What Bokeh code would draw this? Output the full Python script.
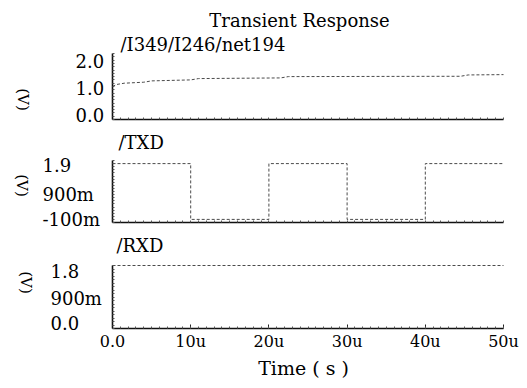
import math
import numpy as np
from bokeh.plotting import figure
from bokeh.models import FixedTicker, Range1d, LinearAxis, Label
from bokeh.embed import file_html
from bokeh.resources import INLINE

# ---------------- data (time in microseconds, volts) ----------------
t_net = [0.0, 0.5, 1.5, 4.0, 5.0, 10.0, 11.0, 21.5, 22.5, 44.5, 45.5, 50.0]
v_net = [1.00, 1.06, 1.10, 1.13, 1.17, 1.20, 1.24, 1.26, 1.30, 1.31, 1.35, 1.36]

t_txd = [0, 10, 10, 20, 20, 30, 30, 40, 40, 50]
v_txd = [1.8, 1.8, 0.0, 0.0, 1.8, 1.8, 0.0, 0.0, 1.8, 1.8]

t_rxd = [0, 50]
v_rxd = [1.8, 1.8]

x_ticks = [0, 10, 20, 30, 40, 50]
x_tick_labels = ["0.0", "10u", "20u", "30u", "40u", "50u"]

net_ticks = [0.0, 1.0, 2.0]
net_tick_labels = ["0.0", "1.0", "2.0"]
txd_ticks = [-0.1, 0.9, 1.9]
txd_tick_labels = ["-100m", "900m", "1.9"]
rxd_ticks = [0.0, 0.9, 1.8]
rxd_tick_labels = ["0.0", "900m", "1.8"]

chart_title = "Transient Response"
signal_names = ["/I349/I246/net194", "/TXD", "/RXD"]
unit_label = "(V)"
x_label = "Time ( s )"

# ---------------- geometry / styling ----------------
W, H = 519, 380
FONT = "DejaVu Serif"
LINE_COLOR = "#4a4a4a"
X_LEFT, X_RIGHT = 112, 503          # pixel span of 0 .. 50 us


def y_range_for(band_top, band_bot, y0, y1):
    k = (y1 - y0) / (band_bot - band_top)
    return Range1d(y0 - (H - band_bot) * k, y1 + band_top * k)


kx = 50.0 / (X_RIGHT - X_LEFT)
p = figure(width=W, height=H, output_backend="svg", toolbar_location=None,
           title=None, x_axis_type=None, y_axis_type=None, min_border=0,
           x_range=Range1d(-X_LEFT * kx, 50 + (W - X_RIGHT) * kx),
           y_range=Range1d(0, H))
p.grid.visible = False
p.outline_line_color = None

panels = [
    # range name, band (top,bottom px), axis range, data, ticks, labels,
    # label x, label y-offsets (px), unit pos, name pos, name, x labels?
    ("p1", (53, 119), (0.0, 2.0), t_net, v_net, net_ticks, net_tick_labels, 75,
     (5, -1, -7), (22, 99), (120, 44), signal_names[0], False),
    ("p2", (160, 222), (-0.1, 1.9), t_txd, v_txd, txd_ticks, txd_tick_labels, 42,
     (3, -3, -4), (21, 185), (118, 142), signal_names[1], False),
    ("p3", (265, 328), (0.0, 1.8), t_rxd, v_rxd, rxd_ticks, rxd_tick_labels, 50,
     (6, -1, -5), (25, 282), (116, 245), signal_names[2], True),
]

minor_x = [float(m) for m in np.arange(0, 50.01, 1.0)]

for (rn, band, yr, t, v, ticks, labels, lx, loffs, upos, npos, name, show_x) in panels:
    p.extra_y_ranges[rn] = y_range_for(band[0], band[1], yr[0], yr[1])

    ya = LinearAxis(y_range_name=rn, fixed_location=0, bounds=yr,
                    axis_line_color="#111111", axis_line_width=1.6,
                    major_tick_in=0, major_tick_out=0,
                    minor_tick_in=2, minor_tick_out=0,
                    minor_tick_line_color="#555555",
                    ticker=FixedTicker(ticks=[], minor_ticks=[
                        float(m) for m in np.arange(yr[0], yr[1] + 1e-9, 0.1)]))
    p.add_layout(ya, "left")

    xa = LinearAxis(y_range_name=rn, fixed_location=yr[0], bounds=(0, 50),
                    axis_line_color="#111111", axis_line_width=1.6,
                    major_tick_in=4, major_tick_out=0,
                    minor_tick_in=2, minor_tick_out=0,
                    major_tick_line_color="#222222",
                    minor_tick_line_color="#555555")
    if show_x:
        xa.ticker = FixedTicker(ticks=x_ticks, minor_ticks=minor_x)
        xa.major_label_overrides = {tk: lb for tk, lb in zip(x_ticks, x_tick_labels)}
        xa.major_label_text_font = FONT
        xa.major_label_text_font_size = "16px"
        xa.major_label_text_color = "black"
        xa.major_label_standoff = 3
    else:
        xa.ticker = FixedTicker(ticks=[], minor_ticks=minor_x)
    p.add_layout(xa, "below")

    p.line(t, v, y_range_name=rn, line_color=LINE_COLOR, line_width=1,
           line_dash="3 2")

    for tk, lb, off in zip(ticks, labels, loffs):
        p.add_layout(Label(x=lx, y=tk, x_units="screen", y_units="data",
                           y_range_name=rn, y_offset=off, text=lb,
                           text_font=FONT, text_font_size="18px",
                           text_color="black", text_align="left",
                           text_baseline="middle"))

    p.add_layout(Label(x=npos[0], y=H - npos[1], x_units="screen", y_units="screen",
                       text=name, text_font=FONT, text_font_size="18px",
                       text_color="black", text_align="left",
                       text_baseline="middle"))
    p.add_layout(Label(x=upos[0], y=H - upos[1], x_units="screen", y_units="screen",
                       text=unit_label, text_font=FONT, text_font_size="15px",
                       text_color="black", text_align="center",
                       text_baseline="middle", angle=-math.pi / 2))

p.add_layout(Label(x=299, y=H - 20, x_units="screen", y_units="screen",
                   text=chart_title, text_font=FONT, text_font_size="18px",
                   text_color="black", text_align="center", text_baseline="middle"))
p.add_layout(Label(x=303, y=H - 367, x_units="screen", y_units="screen",
                   text=x_label, text_font=FONT, text_font_size="19px",
                   text_color="black", text_align="center", text_baseline="middle"))

with open("out.html", "w") as f:
    f.write(file_html(p, INLINE))
